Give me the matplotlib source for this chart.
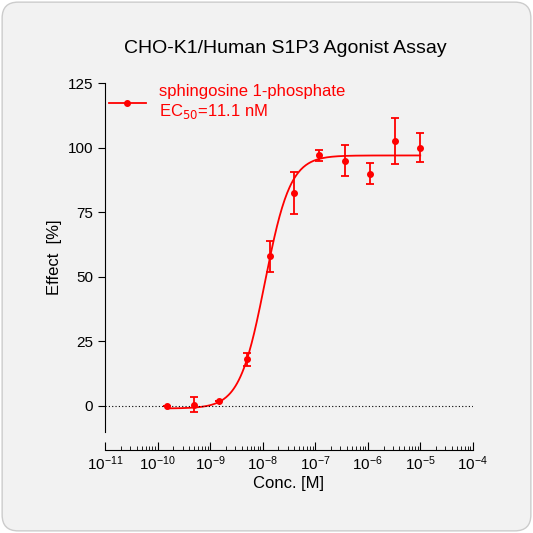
import numpy as np
import matplotlib
matplotlib.use("Agg")
import matplotlib.pyplot as plt
from matplotlib.patches import FancyBboxPatch
from matplotlib.ticker import LogLocator, FixedLocator

conc = [1.5e-10, 5e-10, 1.5e-9, 5e-9, 1.4e-8, 4e-8, 1.2e-7, 3.7e-7, 1.1e-6, 3.3e-6, 1e-5]
effect = [0, 0.5, 2, 18, 58, 82.5, 97, 95, 90, 102.5, 100]
err = [0, 3, 0, 2.5, 6, 8, 2, 6, 4, 9, 5.6]
bottom, top, ec50, hill = -1.0, 97.0, 1.11e-8, 1.8

plt.rcParams['font.family'] = ['Liberation Sans', 'DejaVu Sans']
fig = plt.figure(figsize=(5.33, 5.33), dpi=100)
fig.patch.set_facecolor('white')
fig.patches.append(FancyBboxPatch((0.004, 0.004), 0.992, 0.992, boxstyle="round,pad=0,rounding_size=0.03",
                                  transform=fig.transFigure, facecolor='#f2f2f2', edgecolor='#cccccc', lw=1,
                                  zorder=-10))
ax = fig.add_axes([0.197, 0.19, 0.69, 0.654])
ax.set_zorder(1)
ax.set_facecolor('none')
ax.set_xscale('log')
ax.set_xlim(1e-11, 1e-4)
ax.set_ylim(-10, 125)
xs = np.logspace(np.log10(conc[0]), np.log10(conc[-1]), 300)
ys = bottom + (top - bottom) / (1 + (ec50 / xs) ** hill)
ax.plot(xs, ys, color='red', lw=1.3)
ax.errorbar(conc, effect, yerr=err, fmt='o', color='red', ms=4, capsize=3, elinewidth=1.3, capthick=1.3)
ax.axhline(0, color='black', lw=0.8, ls=(0, (1, 2)))
ax.plot([], [], '-o', color='red', ms=4, lw=1.3, label='sphingosine 1-phosphate\nEC$_{50}$=11.1 nM')
leg = ax.legend(loc='upper left', frameon=False, fontsize=12, labelcolor='red', handlelength=2.2,
                bbox_to_anchor=(-0.03, 1.04))
for s in ['top', 'right']:
    ax.spines[s].set_visible(False)
ax.spines['bottom'].set_position(('outward', 13))
ax.set_yticks([0, 25, 50, 75, 100, 125])
ax.xaxis.set_major_locator(FixedLocator([10.0 ** k for k in range(-11, -3)]))
ax.xaxis.set_minor_locator(LogLocator(base=10, subs=np.arange(2, 10), numticks=20))
ax.tick_params(axis='x', which='major', direction='in', length=6, labelsize=11)
ax.tick_params(axis='x', which='minor', direction='in', length=3)
ax.tick_params(axis='y', direction='out', length=5, labelsize=11)
ax.set_xlabel('Conc. [M]', fontsize=12, labelpad=2)
ax.set_ylabel('Effect  [%]', fontsize=12)
fig.text(0.535, 0.9, 'CHO-K1/Human S1P3 Agonist Assay', ha='center', fontsize=14)
fig.savefig('out.png', dpi=100, facecolor=fig.get_facecolor())
